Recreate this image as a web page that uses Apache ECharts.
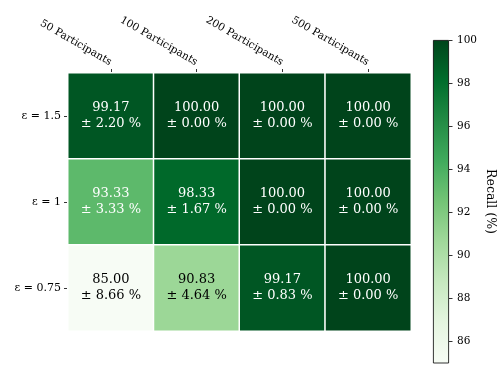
<!DOCTYPE html>
<html>
<head>
<meta charset="utf-8">
<script src="https://cdn.jsdelivr.net/npm/echarts@6/dist/echarts.min.js"></script>
<style>
  html, body { margin: 0; padding: 0; background: #fff; }
  #chart { width: 498px; height: 369px; }
</style>
</head>
<body>
<div id="chart"></div>
<script>
// Participant counts (columns) and privacy budgets (rows, top to bottom)
const participants = ['50 Participants', '100 Participants', '200 Participants', '500 Participants'];
const epsilons = ['ε = 1.5', 'ε = 1', 'ε = 0.75'];

// Mean recall (%) per row of epsilons
const recallMean = [
  [99.17, 100.00, 100.00, 100.00],
  [93.33, 98.33, 100.00, 100.00],
  [85.00, 90.83, 99.17, 100.00]
];
// Standard deviation (%) per row of epsilons
const recallStd = [
  [2.20, 0.00, 0.00, 0.00],
  [3.33, 1.67, 0.00, 0.00],
  [8.66, 4.64, 0.83, 0.00]
];

// Colour scale range and colorbar ticks
const scaleMin = 85;
const scaleMax = 100;
const colorbarTicks = [86, 88, 90, 92, 94, 96, 98, 100];

// Matplotlib "Greens" colormap stops
const greens = ['#f7fcf5', '#e5f5e0', '#c7e9c0', '#a1d99b', '#74c476', '#41ab5d', '#238b45', '#006d2c', '#00441b'];

const serif = '"DejaVu Serif", "Liberation Serif", serif';

const cells = [];
recallMean.forEach((row, r) => {
  row.forEach((v, c) => {
    cells.push({
      value: [c, r, v, recallStd[r][c]],
      label: { color: v > 92 ? '#ffffff' : '#000000' }
    });
  });
});

const chart = echarts.init(document.getElementById('chart'), null, { renderer: 'canvas' });
chart.setOption({
  animation: false,
  backgroundColor: '#ffffff',
  textStyle: { fontFamily: serif },
  grid: [
    { left: 68, top: 73, width: 343, height: 258, containLabel: false },
    { left: 433, top: 40, width: 16, height: 323, containLabel: false }
  ],
  xAxis: [
    {
      gridIndex: 0,
      type: 'category',
      data: participants,
      position: 'top',
      axisLine: { show: false },
      axisTick: { show: true, alignWithLabel: true, length: 4, lineStyle: { color: '#000', width: 0.8 } },
      axisLabel: {
        rotate: 30, fontFamily: serif, fontSize: 10.5, color: '#000', margin: 10,
        interval: 0
      },
      splitLine: { show: false }
    },
    {
      gridIndex: 1,
      type: 'category',
      data: ['bar'],
      show: false
    }
  ],
  yAxis: [
    {
      gridIndex: 0,
      type: 'category',
      data: epsilons,
      inverse: true,
      axisLine: { show: false },
      axisTick: { show: true, alignWithLabel: true, length: 4, lineStyle: { color: '#000', width: 0.8 } },
      axisLabel: { fontFamily: serif, fontSize: 11, color: '#000', margin: 7 },
      splitLine: { show: false }
    },
    {
      gridIndex: 1,
      type: 'value',
      position: 'right',
      min: scaleMin,
      max: scaleMax,
      name: 'Recall (%)',
      nameLocation: 'middle',
      nameRotate: -90,
      nameGap: 35,
      nameTextStyle: { fontFamily: serif, fontSize: 12.5, color: '#000' },
      axisLine: { show: false },
      axisTick: {
        show: true, length: 3.5, inside: false,
        customValues: colorbarTicks,
        lineStyle: { color: '#000', width: 0.8 }
      },
      axisLabel: {
        fontFamily: serif, fontSize: 10.5, color: '#000', margin: 8,
        customValues: colorbarTicks
      },
      splitLine: { show: false }
    }
  ],
  visualMap: {
    show: false,
    type: 'continuous',
    min: scaleMin,
    max: scaleMax,
    dimension: 2,
    seriesIndex: 0,
    inRange: { color: greens }
  },
  series: [
    {
      type: 'heatmap',
      xAxisIndex: 0,
      yAxisIndex: 0,
      data: cells,
      itemStyle: { borderColor: '#ffffff', borderWidth: 1.5 },
      label: {
        show: true,
        fontFamily: serif,
        fontSize: 13,
        lineHeight: 16,
        formatter: p => p.value[2].toFixed(2) + '\n± ' + p.value[3].toFixed(2) + ' %'
      },
      emphasis: { disabled: true }
    },
    {
      type: 'bar',
      xAxisIndex: 1,
      yAxisIndex: 1,
      data: [scaleMax],
      barWidth: '100%',
      silent: true,
      itemStyle: {
        borderColor: '#000',
        borderWidth: 0.8,
        color: new echarts.graphic.LinearGradient(0, 1, 0, 0,
          greens.map((c, i) => ({ offset: i / (greens.length - 1), color: c })))
      }
    }
  ]
});
</script>
</body>
</html>
